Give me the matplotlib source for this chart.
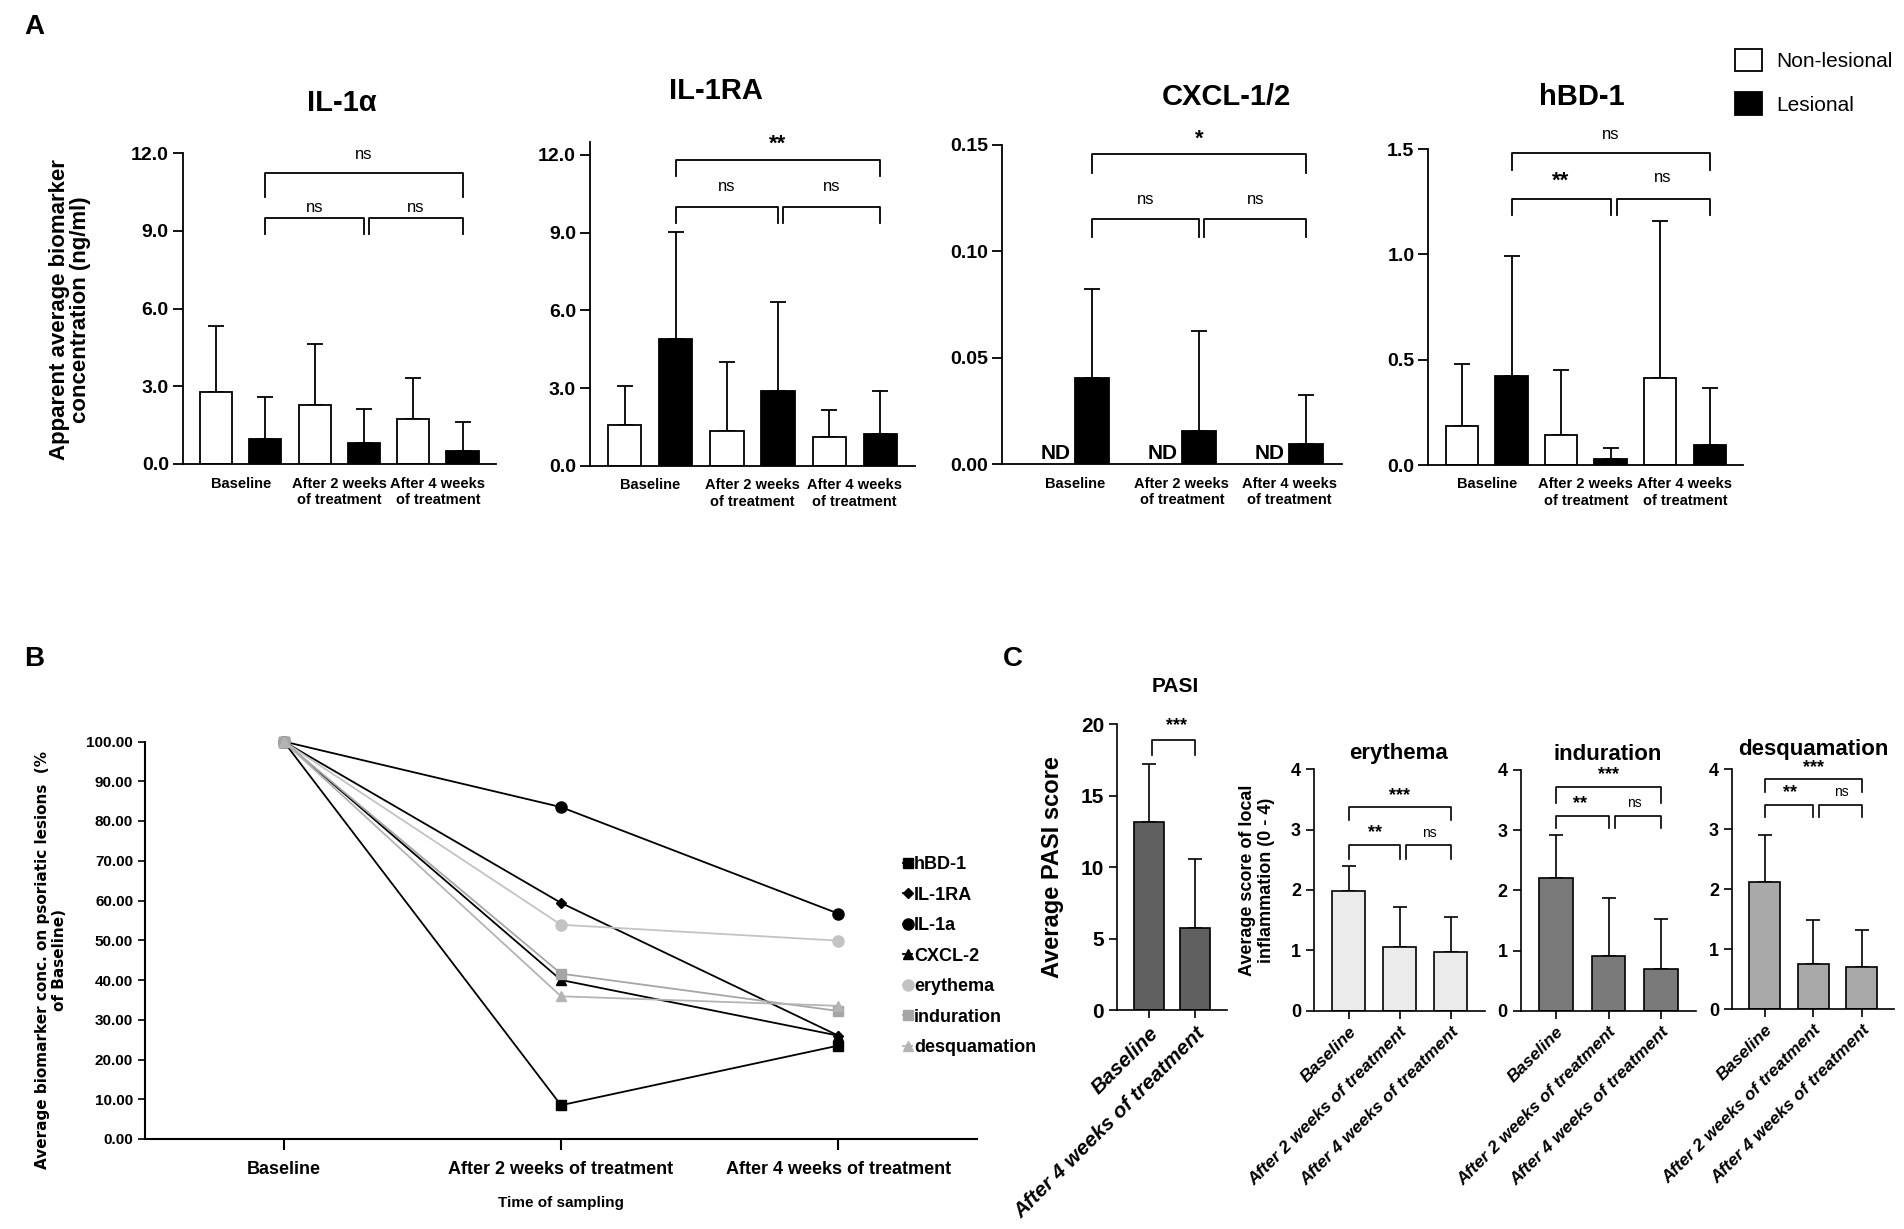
import numpy as np
import matplotlib
matplotlib.use('Agg')
import matplotlib.pyplot as plt
from matplotlib.patches import Patch
from matplotlib import font_manager

# ---- data, panel A (ng/ml, mean and SD) ----
groups_a = ['Baseline', 'After 2 weeks\nof treatment', 'After 4 weeks\nof treatment']

il1a_nl = [2.77, 2.29, 1.72]
il1a_nl_sd = [2.57, 2.36, 1.60]
il1a_l = [0.95, 0.81, 0.51]
il1a_l_sd = [1.65, 1.33, 1.11]

il1ra_nl = [1.57, 1.36, 1.13]
il1ra_nl_sd = [1.52, 2.64, 1.01]
il1ra_l = [4.89, 2.89, 1.25]
il1ra_l_sd = [4.12, 3.45, 1.66]

cxcl_nl = ['ND', 'ND', 'ND']
cxcl_l = [0.0407, 0.0157, 0.0094]
cxcl_l_sd = [0.0417, 0.0468, 0.0232]

hbd1_nl = [0.185, 0.142, 0.415]
hbd1_nl_sd = [0.295, 0.307, 0.745]
hbd1_l = [0.424, 0.027, 0.095]
hbd1_l_sd = [0.570, 0.052, 0.269]

# ---- data, panel B (% of baseline) ----
time_b = ['Baseline', 'After 2 weeks of treatment', 'After 4 weeks of treatment']
b_names = ['hBD-1', 'IL-1RA', 'IL-1a', 'CXCL-2', 'erythema', 'induration', 'desquamation']
b_hbd1 = [100, 8.5, 23.5]
b_il1ra = [100, 59.4, 26.0]
b_il1a = [100, 83.5, 56.7]
b_cxcl2 = [100, 40.0, 26.0]
b_eryth = [100, 53.9, 49.9]
b_indur = [100, 41.6, 32.2]
b_desq = [100, 35.9, 33.5]

# ---- data, panel C (scores, mean and SD) ----
pasi_groups = ['Baseline', 'After 4 weeks of treatment']
pasi = [13.19, 5.74]
pasi_sd = [4.03, 4.83]

groups_c = ['Baseline', 'After 2 weeks of treatment', 'After 4 weeks of treatment']
eryth = [1.99, 1.06, 0.98]
eryth_sd = [0.40, 0.66, 0.57]
indur = [2.20, 0.91, 0.70]
indur_sd = [0.72, 0.97, 0.83]
desq = [2.13, 0.75, 0.70]
desq_sd = [0.78, 0.74, 0.62]

# fontes
nomes = set(f.name for f in font_manager.fontManager.ttflist)
narrow = 'Liberation Sans Narrow' if 'Liberation Sans Narrow' in nomes else 'Liberation Sans'
plt.rcParams['font.family'] = ['Liberation Sans', 'DejaVu Sans']

W, H = 1904, 1229
fig = plt.figure(figsize=(W / 100, H / 100), dpi=100)


def eixo(left, right, y0, ytop):
    return fig.add_axes([left / W, 1 - y0 / H, (right - left) / W, (y0 - ytop) / H])


def estilo(ax, lw=1.3):
    ax.spines['top'].set_visible(False)
    ax.spines['right'].set_visible(False)
    ax.spines['left'].set_linewidth(lw)
    ax.spines['bottom'].set_linewidth(lw)


def chave(ax, x0, x1, y, desce, lw=1.3):
    ax.plot([x0, x0, x1, x1], [y - desce, y, y, y - desce], color='black', lw=lw, clip_on=False)


def barras_par(ax, nl, nl_sd, les, les_sd):
    g = np.arange(3)
    ax.bar(g * 2, nl, 0.65, color='white', edgecolor='black', lw=1.3, zorder=2)
    ax.errorbar(g * 2, nl, yerr=[np.zeros(3), nl_sd], fmt='none', ecolor='black',
                elinewidth=1.3, capsize=6, capthick=1.3, zorder=1)
    ax.bar(g * 2 + 1, les, 0.65, color='black', edgecolor='black', lw=1.3, zorder=2)
    ax.errorbar(g * 2 + 1, les, yerr=[np.zeros(3), les_sd], fmt='none', ecolor='black',
                elinewidth=1.3, capsize=6, capthick=1.3, zorder=1)
    ax.set_xticks(g * 2 + 0.5)
    ax.set_xticklabels(groups_a)
    ax.set_xlim(-0.68, 5.68)


def acabamento_a(ax, ticks, fmt):
    estilo(ax)
    ax.set_yticks(ticks)
    ax.set_yticklabels([fmt % t for t in ticks], fontsize=14, fontweight='bold')
    ax.tick_params(axis='y', direction='out', length=7, width=1.3, pad=3)
    ax.tick_params(axis='x', length=0, pad=9)
    for t in ax.get_xticklabels():
        t.set_fontsize(10.5)
        t.set_fontweight('bold')
        t.set_family(narrow)
        t.set_linespacing(1.2)


def tres_chaves(ax, xs, y_top, d_top, txt_top, y_low, d_low, txt_low, gap, star_top, star_low):
    a, b, c = xs
    chave(ax, a, c, y_top, d_top)
    chave(ax, a, b, y_low, d_low)
    chave(ax, b + gap, c, y_low, d_low)
    itens = [((a + c) / 2, star_top[0], txt_top),
             ((a + b) / 2, star_low[0], txt_low[0]),
             ((b + gap + c) / 2, star_low[1], txt_low[1])]
    for (x, y, s) in itens:
        ax.text(x, y, s, ha='center', va='center', fontsize=16 if '*' in s else 12,
                fontweight='bold' if '*' in s else 'normal')


# ===== Painel A =====
fig.text(24 / W, 1 - 27 / H, 'A', fontsize=20, fontweight='bold', va='center')

ax1 = eixo(182.7, 496, 464, 153.3)
barras_par(ax1, il1a_nl, il1a_nl_sd, il1a_l, il1a_l_sd)
ax1.set_ylim(0, 12)
acabamento_a(ax1, [0, 3, 6, 9, 12], '%.1f')
tres_chaves(ax1, (1, 3, 5), 11.25, 0.95, 'ns', 9.51, 0.62, ('ns', 'ns'), 0.1, (11.97,), (9.91, 9.91))
fig.text(342 / W, 1 - 103 / H, 'IL-1α', fontsize=21, fontweight='bold', ha='center', va='center')

ax2 = eixo(590, 915, 466, 141.7)
barras_par(ax2, il1ra_nl, il1ra_nl_sd, il1ra_l, il1ra_l_sd)
ax2.set_ylim(0, 12.5)
acabamento_a(ax2, [0, 3, 6, 9, 12], '%.1f')
tres_chaves(ax2, (1, 3, 5), 11.78, 0.62, '**', 10.0, 0.64, ('ns', 'ns'), 0.1, (12.4,), (10.76, 10.76))
fig.text(716 / W, 1 - 91 / H, 'IL-1RA', fontsize=21, fontweight='bold', ha='center', va='center')

ax3 = eixo(1001.7, 1341.7, 464.3, 145)
g = np.arange(3)
ax3.bar(g + 0.16, cxcl_l, 0.32, color='black', edgecolor='black', lw=1.3, zorder=2)
ax3.errorbar(g + 0.16, cxcl_l, yerr=[np.zeros(3), cxcl_l_sd], fmt='none', ecolor='black',
             elinewidth=1.3, capsize=6, capthick=1.3, zorder=1)
for i, s in enumerate(cxcl_nl):
    ax3.text(i - 0.18, 0.0005, s, ha='center', va='bottom', fontsize=15, fontweight='bold')
ax3.set_xticks(g)
ax3.set_xticklabels(groups_a)
ax3.set_xlim(-0.68, 2.49)
ax3.set_ylim(0, 0.15)
acabamento_a(ax3, [0, 0.05, 0.10, 0.15], '%.2f')
tres_chaves(ax3, (0.16, 1.16, 2.16), 0.1456, 0.0089, '*', 0.1154, 0.0084, ('ns', 'ns'), 0.05,
            (0.1525,), (0.1245, 0.1245))
fig.text(1226 / W, 1 - 97 / H, 'CXCL-1/2', fontsize=21, fontweight='bold', ha='center', va='center')

ax4 = eixo(1428.3, 1743.3, 465, 149)
barras_par(ax4, hbd1_nl, hbd1_nl_sd, hbd1_l, hbd1_l_sd)
ax4.set_ylim(0, 1.5)
acabamento_a(ax4, [0, 0.5, 1.0, 1.5], '%.1f')
tres_chaves(ax4, (1, 3, 5), 1.479, 0.08, 'ns', 1.264, 0.075, ('**', 'ns'), 0.12, (1.57,), (1.345, 1.365))
fig.text(1582 / W, 1 - 97 / H, 'hBD-1', fontsize=21, fontweight='bold', ha='center', va='center')

fig.text(70 / W, 1 - 310 / H, 'Apparent average biomarker\nconcentration (ng/ml)', rotation=90,
         ha='center', va='center', fontsize=16, fontweight='bold', multialignment='center',
         linespacing=1.05)

fig.legend(handles=[Patch(facecolor='white', edgecolor='black', lw=1.3),
                    Patch(facecolor='black', edgecolor='black', lw=1.3)],
           labels=['Non-lesional', 'Lesional'], loc='upper left',
           bbox_to_anchor=(1716 / W, 1 - 30 / H), frameon=False, fontsize=15,
           handlelength=1.3, handleheight=1.3, labelspacing=1.0, handletextpad=0.7)

# ===== Painel B =====
fig.text(24 / W, 1 - 659 / H, 'B', fontsize=20, fontweight='bold', va='center')
axb = eixo(145, 977, 1139, 741.5)
xb = np.arange(3)
series_b = [b_hbd1, b_il1ra, b_il1a, b_cxcl2, b_eryth, b_indur, b_desq]
cores_b = ['black', 'black', 'black', 'black', '#c3c3c3', '#a6a6a6', '#b4b4b4']
marc_b = ['s', 'D', 'o', '^', 'o', 's', '^']
tam_b = [7, 5, 8, 7, 8, 7, 7]
for vals, nome, cor, m, ms in zip(series_b, b_names, cores_b, marc_b, tam_b):
    axb.plot(xb, vals, color=cor, marker=m, markersize=ms, lw=1.3, label=nome, clip_on=False)
axb.set_xlim(-0.5, 2.5)
axb.set_ylim(0, 100)
estilo(axb, lw=1.5)
axb.set_yticks(np.arange(0, 101, 10))
axb.set_yticklabels(['%.2f' % v for v in np.arange(0, 101, 10)], fontsize=11,
                    fontweight='bold', family=narrow)
axb.set_xticks(xb)
axb.set_xticklabels(time_b, fontsize=13, fontweight='bold', family=narrow)
axb.tick_params(axis='y', direction='out', length=5, width=1.2)
axb.tick_params(axis='x', direction='out', length=8, width=1.5, pad=8)
axb.set_xlabel('Time of sampling', fontsize=11, fontweight='bold', family=narrow, labelpad=13)
fig.text(51 / W, 1 - 960 / H, 'Average biomarker conc. on psoriatic lesions  (%\nof Baseline)',
         rotation=90, ha='center', va='center', fontsize=11, fontweight='bold',
         family='DejaVu Sans', multialignment='center', linespacing=1.2)
axb.legend(loc='upper left', bbox_to_anchor=(903 / W, 1 - 856 / H), bbox_transform=fig.transFigure,
           frameon=False, handlelength=0.5, handletextpad=0.1, labelspacing=0.75,
           prop={'family': narrow, 'weight': 'bold', 'size': 13}, borderpad=0, borderaxespad=0)

# ===== Painel C =====
fig.text(1003 / W, 1 - 659 / H, 'C', fontsize=20, fontweight='bold', va='center')


def acabamento_c(ax, ticks, tsize, lsize):
    estilo(ax, lw=1.2)
    ax.set_yticks(ticks)
    ax.set_yticklabels([str(t) for t in ticks], fontsize=tsize, fontweight='bold')
    ax.tick_params(axis='both', direction='out', length=6, width=1.2)
    for t in ax.get_xticklabels():
        t.set_rotation(45)
        t.set_ha('right')
        t.set_rotation_mode('anchor')
        t.set_fontsize(lsize)
        t.set_fontweight('bold')
        t.set_fontstyle('italic')


def barras_c(ax, vals, sd, labels, cor):
    x = np.arange(len(vals))
    ax.bar(x, vals, 0.64, color=cor, edgecolor='black', lw=1.2, zorder=2)
    ax.errorbar(x, vals, yerr=[np.zeros(len(vals)), sd], fmt='none', ecolor='black',
                elinewidth=1.2, capsize=5, capthick=1.2, zorder=1)
    ax.set_xticks(x)
    ax.set_xticklabels(labels)
    ax.set_xlim(-0.67, len(vals) - 0.33)


def txt_sig(ax, x, y, s):
    if '*' in s:
        ax.text(x, y, s, ha='center', va='center', fontsize=13, fontweight='bold')
    else:
        ax.text(x, y, s, ha='center', va='center', fontsize=10)


axp = eixo(1117.3, 1226.7, 1010, 724.3)
barras_c(axp, pasi, pasi_sd, pasi_groups, '#606060')
axp.set_ylim(0, 20)
acabamento_c(axp, [0, 5, 10, 15, 20], 15, 15)
chave(axp, 0.08, 1.0, 18.9, 1.05, lw=1.2)
txt_sig(axp, 0.6, 19.9, '***')
axp.set_ylabel('Average PASI score', fontsize=17, fontweight='bold', labelpad=12)
fig.text(1175 / W, 1 - 687 / H, 'PASI', fontsize=15, fontweight='bold', ha='center', va='center')

paineis_c = [
    (1314.3, 1485, 1010.7, 769.3, eryth, eryth_sd, '#ebebeb', 'erythema', 1399, 753,
     (3.37, 0.21, 3.57), (2.75, 0.23, 2.95, 2.95), (0.52, 1.58)),
    (1521, 1696, 1010.7, 770, indur, indur_sd, '#7a7a7a', 'induration', 1608, 754,
     (3.72, 0.27, 3.92), (3.23, 0.2, 3.44, 3.45), (0.45, 1.5)),
    (1732.3, 1894.3, 1009.3, 769.3, desq, desq_sd, '#a9a9a9', 'desquamation', 1813, 750,
     (3.84, 0.21, 4.03), (3.41, 0.2, 3.61, 3.62), (0.51, 1.57)),
]
for (l, r, y0, yt, vals, sd, cor, tit, tx, ty, topo, baixo, xs) in paineis_c:
    ax = eixo(l, r, y0, yt)
    barras_c(ax, vals, sd, groups_c, cor)
    ax.set_ylim(0, 4)
    acabamento_c(ax, [0, 1, 2, 3, 4], 13, 12.5)
    chave(ax, 0, 2, topo[0], topo[1], lw=1.2)
    txt_sig(ax, 1, topo[2], '***')
    chave(ax, 0, 1, baixo[0], baixo[1], lw=1.2)
    chave(ax, 1.12, 2, baixo[0], baixo[1], lw=1.2)
    txt_sig(ax, xs[0], baixo[2], '**')
    txt_sig(ax, xs[1], baixo[3], 'ns')
    fig.text(tx / W, 1 - ty / H, tit, fontsize=16, fontweight='bold', ha='center', va='center')
    if tit == 'erythema':
        fig.text(1257 / W, 1 - 880 / H, 'Average score of local\ninflammation (0 - 4)', rotation=90,
                 ha='center', va='center', fontsize=13, fontweight='bold',
                 multialignment='center', linespacing=1.1)

fig.savefig('out.png', dpi=100)
